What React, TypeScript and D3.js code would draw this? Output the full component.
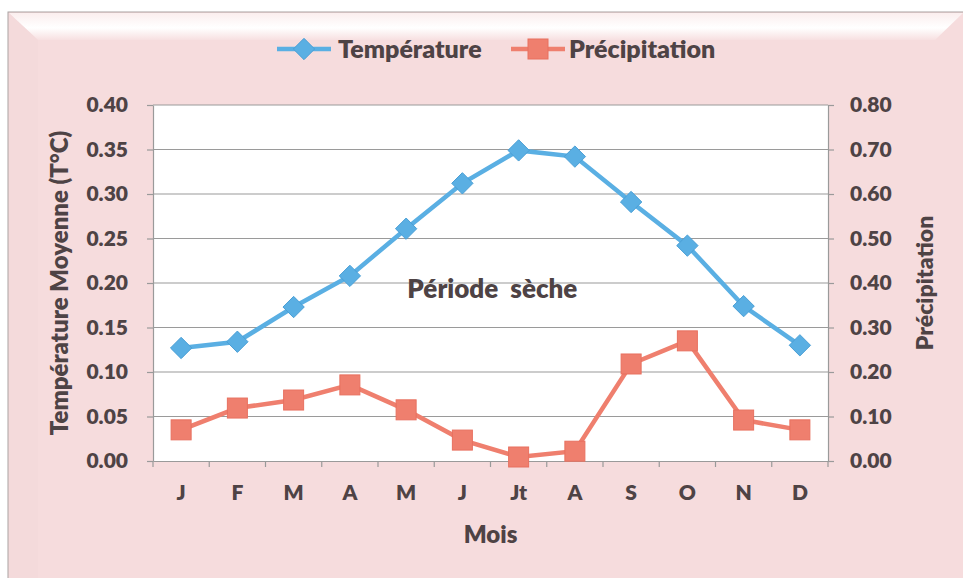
import React, { useEffect, useRef } from "react";
import * as d3 from "d3";

const months = ["J", "F", "M", "A", "M", "J", "Jt", "A", "S", "O", "N", "D"];
const temperature = [0.127, 0.134, 0.173, 0.208, 0.261, 0.312, 0.349, 0.342, 0.291, 0.242, 0.174, 0.13];
const precipitation = [0.07, 0.119, 0.137, 0.171, 0.115, 0.047, 0.009, 0.022, 0.218, 0.27, 0.092, 0.07];
const leftTicks = [0, 0.05, 0.1, 0.15, 0.2, 0.25, 0.3, 0.35, 0.4];
const rightTicks = [0, 0.1, 0.2, 0.3, 0.4, 0.5, 0.6, 0.7, 0.8];

const FONT = "Lato, 'Open Sans', sans-serif";
const TEXT = "#4e4345";
const BLUE = "#5aafe3";
const RED = "#ef7f6e";

function Chart() {
  const ref = useRef<SVGSVGElement>(null);

  useEffect(() => {
    const width = 963;
    const height = 578;
    const margin = { top: 105, left: 153, bottom: 117, right: 135 };
    const uWidth = width - margin.left - margin.right;
    const uHeight = height - margin.top - margin.bottom;

    const svg = d3.select(ref.current);
    svg.selectAll("*").remove();

    // frame
    const defs = svg.append("defs");
    const grad = defs
      .append("linearGradient")
      .attr("id", "bevel")
      .attr("x1", 0)
      .attr("y1", 0)
      .attr("x2", 0)
      .attr("y2", 1);
    grad.append("stop").attr("offset", "0%").attr("stop-color", "#fbeeee");
    grad.append("stop").attr("offset", "55%").attr("stop-color", "#ffffff");
    grad.append("stop").attr("offset", "100%").attr("stop-color", "#f7e0e1");

    svg.append("rect").attr("width", width).attr("height", height).attr("fill", "#ffffff");
    svg
      .append("rect")
      .attr("x", 8)
      .attr("y", 12)
      .attr("width", width)
      .attr("height", height)
      .attr("fill", "#f6dcdd")
      .attr("stroke", "#a9a2a2")
      .attr("stroke-width", 1);
    svg
      .append("path")
      .attr("d", `M9,13 L${width},13 L${width - 28},40 L38,40 Z`)
      .attr("fill", "url(#bevel)");
    svg
      .append("path")
      .attr("d", `M9,13 L38,40 L38,${height} L9,${height} Z`)
      .attr("fill", "#f4d8da")
      .attr("opacity", 0.6);

    const g = svg.append("g").attr("transform", `translate(${margin.left},${margin.top})`);

    const x = d3.scaleBand<number>().domain(d3.range(months.length)).range([0, uWidth]);
    const yL = d3.scaleLinear().domain([0, 0.4]).range([uHeight, 0]);
    const yR = d3.scaleLinear().domain([0, 0.8]).range([uHeight, 0]);

    g.append("rect").attr("width", uWidth).attr("height", uHeight).attr("fill", "#ffffff");

    // grid
    g.append("g")
      .selectAll("line")
      .data(leftTicks.slice(1))
      .enter()
      .append("line")
      .attr("x1", 0)
      .attr("x2", uWidth)
      .attr("y1", (d) => yL(d))
      .attr("y2", (d) => yL(d))
      .attr("stroke", "#9a9a9a")
      .attr("stroke-width", 1.2);

    const axisStyle = (sel: any) => {
      sel.select(".domain").attr("stroke", "#9a9a9a").attr("stroke-width", 1.2);
      sel.selectAll(".tick line").attr("stroke", "#9a9a9a").attr("stroke-width", 1.2);
      sel
        .selectAll("text")
        .attr("fill", TEXT)
        .style("font-family", FONT)
        .style("font-size", "21px")
        .style("font-weight", 800);
    };

    g.append("g")
      .call(
        d3
          .axisLeft(yL)
          .tickValues(leftTicks)
          .tickFormat(d3.format(".2f"))
          .tickSize(6)
          .tickSizeOuter(0)
          .tickPadding(19)
      )
      .call(axisStyle);

    g.append("g")
      .attr("transform", `translate(${uWidth},0)`)
      .call(
        d3
          .axisRight(yR)
          .tickValues(rightTicks)
          .tickFormat(d3.format(".2f"))
          .tickSize(6)
          .tickSizeOuter(0)
          .tickPadding(16)
      )
      .call(axisStyle);

    const xAxis = g
      .append("g")
      .attr("transform", `translate(0,${uHeight})`)
      .call(
        d3
          .axisBottom(x)
          .tickFormat((i) => months[i as number])
          .tickSize(0)
          .tickPadding(24)
      )
      .call(axisStyle);
    xAxis
      .append("g")
      .selectAll("line")
      .data(d3.range(months.length + 1))
      .enter()
      .append("line")
      .attr("x1", (i) => i * x.step())
      .attr("x2", (i) => i * x.step())
      .attr("y1", 0)
      .attr("y2", 6)
      .attr("stroke", "#9a9a9a")
      .attr("stroke-width", 1.2);

    const cx = (i: number) => (x(i) as number) + x.bandwidth() / 2;

    // text in plot
    g.append("text")
      .attr("x", cx(5) + 30)
      .attr("y", yL(0.183))
      .attr("text-anchor", "middle")
      .attr("fill", TEXT)
      .style("font-family", FONT)
      .style("font-size", "26px")
      .style("font-weight", 800)
      .attr("xml:space", "preserve")
      .text("Période  sèche");

    const lineT = d3
      .line<number>()
      .x((d, i) => cx(i))
      .y((d) => yL(d));
    const lineP = d3
      .line<number>()
      .x((d, i) => cx(i))
      .y((d) => yR(d));

    g.append("path")
      .datum(temperature)
      .attr("d", lineT)
      .attr("fill", "none")
      .attr("stroke", BLUE)
      .attr("stroke-width", 4.5);
    g.append("path")
      .datum(precipitation)
      .attr("d", lineP)
      .attr("fill", "none")
      .attr("stroke", RED)
      .attr("stroke-width", 4.5);

    const diamond = d3.symbol().type(d3.symbolDiamond2).size(290);
    g.append("g")
      .selectAll("path")
      .data(temperature)
      .enter()
      .append("path")
      .attr("transform", (d, i) => `translate(${cx(i)},${yL(d)})`)
      .attr("d", diamond)
      .attr("fill", BLUE)
      .attr("stroke", "#4a9fd6")
      .attr("stroke-width", 1);

    g.append("g")
      .selectAll("rect")
      .data(precipitation)
      .enter()
      .append("rect")
      .attr("x", (d, i) => cx(i) - 10)
      .attr("y", (d) => yR(d) - 10)
      .attr("width", 20)
      .attr("height", 20)
      .attr("fill", RED)
      .attr("stroke", "#e8705f")
      .attr("stroke-width", 1);

    // titles
    svg
      .append("text")
      .attr("transform", `translate(68,${margin.top + uHeight / 2}) rotate(-90)`)
      .attr("text-anchor", "middle")
      .attr("fill", TEXT)
      .style("font-family", FONT)
      .style("font-size", "24px")
      .style("font-weight", 800)
      .text("Température Moyenne (T°C)");

    svg
      .append("text")
      .attr("transform", `translate(933,${margin.top + uHeight / 2}) rotate(-90)`)
      .attr("text-anchor", "middle")
      .attr("fill", TEXT)
      .style("font-family", FONT)
      .style("font-size", "23px")
      .style("font-weight", 800)
      .text("Précipitation");

    svg
      .append("text")
      .attr("x", margin.left + uWidth / 2)
      .attr("y", 543)
      .attr("text-anchor", "middle")
      .attr("fill", TEXT)
      .style("font-family", FONT)
      .style("font-size", "24px")
      .style("font-weight", 800)
      .text("Mois");

    // legend
    const legend = svg.append("g").attr("transform", "translate(0,49)");
    legend
      .append("line")
      .attr("x1", 277)
      .attr("x2", 331)
      .attr("stroke", BLUE)
      .attr("stroke-width", 4.5);
    legend
      .append("path")
      .attr("transform", "translate(304,0)")
      .attr("d", diamond)
      .attr("fill", BLUE)
      .attr("stroke", "#4a9fd6");
    legend
      .append("text")
      .attr("x", 338)
      .attr("y", 9)
      .attr("fill", TEXT)
      .style("font-family", FONT)
      .style("font-size", "25px")
      .style("font-weight", 800)
      .text("Température");
    legend
      .append("line")
      .attr("x1", 511)
      .attr("x2", 565)
      .attr("stroke", RED)
      .attr("stroke-width", 4.5);
    legend
      .append("rect")
      .attr("x", 528)
      .attr("y", -10)
      .attr("width", 20)
      .attr("height", 20)
      .attr("fill", RED)
      .attr("stroke", "#e8705f");
    legend
      .append("text")
      .attr("x", 569)
      .attr("y", 9)
      .attr("fill", TEXT)
      .style("font-family", FONT)
      .style("font-size", "25px")
      .style("font-weight", 800)
      .text("Précipitation");
  }, []);

  return <svg ref={ref} width={963} height={578} style={{ display: "block" }} />;
}

export default function App() {
  return (
    <div style={{ position: "fixed", left: 0, top: 0 }}>
      <Chart />
    </div>
  );
}
